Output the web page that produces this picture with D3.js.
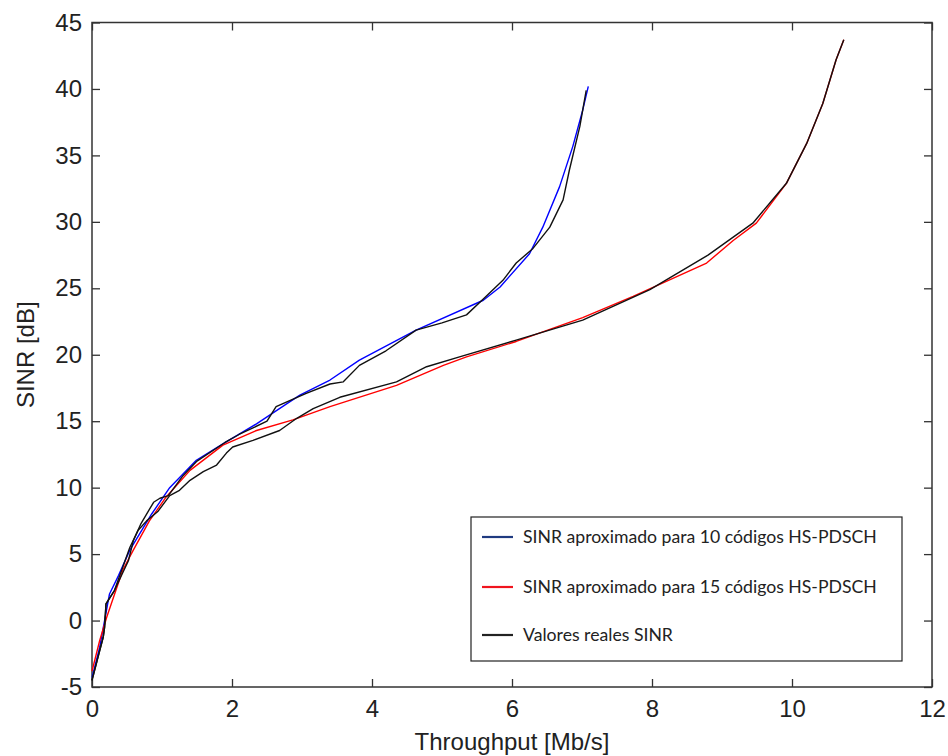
<!DOCTYPE html>
<html>
<head>
<meta charset="utf-8">
<script src="https://cdn.jsdelivr.net/npm/d3@7"></script>
<style>
  body { margin: 0; background: #fff; }
</style>
</head>
<body>
<div id="chart"></div>
<script>
// SINR vs throughput, 10 and 15 HS-PDSCH codes

var xTicks = [0, 2, 4, 6, 8, 10, 12];
var yTicks = [-5, 0, 5, 10, 15, 20, 25, 30, 35, 40, 45];

// approximated SINR, 10 codes (blue)
var aprox10X = [0, 0.11, 0.25, 0.38, 0.54, 0.85, 1.11, 1.49, 1.87, 2.35, 2.78, 2.97, 3.40, 3.82, 4.63, 5.59, 5.83, 6.25, 6.44, 6.68, 6.87, 7.01, 7.09];
var aprox10Y = [-4.3, -2.0, 2.0, 3.4, 5.3, 8.0, 10.0, 12.06, 13.3, 14.8, 16.3, 16.96, 18.1, 19.6, 21.85, 24.1, 25.1, 27.6, 29.6, 32.65, 35.7, 38.4, 40.2];

// approximated SINR, 15 codes (red)
var aprox15X = [0, 0.11, 0.21, 0.44, 0.59, 0.82, 1.06, 1.40, 1.87, 2.35, 2.87, 3.40, 4.35, 5.02, 5.35, 6.06, 7.01, 7.73, 8.78, 9.16, 9.49, 9.92, 10.21, 10.44, 10.63, 10.74];
var aprox15Y = [-3.8, -1.5, 0.25, 3.8, 5.3, 7.5, 9.3, 11.3, 13.2, 14.3, 15.1, 16.1, 17.7, 19.2, 19.84, 21.0, 22.8, 24.4, 26.9, 28.6, 29.9, 32.9, 35.9, 38.9, 42.2, 43.7];

// real SINR values, 10 codes (black)
var real10X = [0, 0.11, 0.16, 0.18, 0.20, 0.32, 0.52, 0.59, 0.70, 0.88, 0.97, 1.09, 1.3, 1.5, 1.9, 2.1, 2.3, 2.5, 2.63, 2.8, 3.06, 3.4, 3.59, 3.82, 4.2, 4.63, 5.0, 5.35, 5.59, 5.87, 6.06, 6.3, 6.54, 6.73, 6.82, 6.97, 7.06];
var real10Y = [-4.5, -2.26, -1.26, -0.5, 1.26, 2.26, 4.5, 6.0, 7.3, 8.9, 9.2, 9.4, 10.9, 12.0, 13.4, 14.0, 14.5, 15.0, 16.1, 16.5, 17.1, 17.8, 17.96, 19.2, 20.3, 21.85, 22.4, 23.0, 24.2, 25.6, 26.9, 28.0, 29.6, 31.65, 33.9, 37.2, 39.9];

// real SINR values, 15 codes (black)
var real15X = [0, 0.11, 0.16, 0.18, 0.20, 0.32, 0.54, 0.66, 0.78, 0.94, 1.11, 1.25, 1.40, 1.59, 1.78, 1.92, 2.01, 2.3, 2.68, 2.92, 3.16, 3.54, 4.35, 4.78, 5.25, 6.06, 7.01, 7.97, 8.8, 9.44, 9.68, 9.92, 10.21, 10.44, 10.63, 10.74];
var real15Y = [-4.5, -2.26, -1.26, -0.5, 1.26, 2.26, 5.5, 6.8, 7.5, 8.2, 9.4, 9.8, 10.55, 11.2, 11.7, 12.6, 13.06, 13.56, 14.3, 15.2, 15.95, 16.8, 17.96, 19.1, 19.84, 21.1, 22.6, 24.9, 27.5, 29.9, 31.4, 32.9, 35.9, 38.9, 42.2, 43.7];

var legendLabels = [
  "SINR aproximado para 10 códigos HS-PDSCH",
  "SINR aproximado para 15 códigos HS-PDSCH",
  "Valores reales SINR"
];

var width = 948;
var height = 756;

var margin = {top: 22.5, right: 16, bottom: 69, left: 92};

var svg = d3.select("#chart").append("svg")
  .attr("width", width)
  .attr("height", height);

svg.append("rect")
  .attr("width", width)
  .attr("height", height)
  .attr("fill", "#fff");

var x = d3.scaleLinear()
  .domain([0, 12])
  .range([margin.left, width - margin.right]);

var y = d3.scaleLinear()
  .domain([-5, 45])
  .range([height - margin.bottom, margin.top]);

var axisColor = "#333";
var tickFont = "'Liberation Sans', Arial, sans-serif";
var plainNum = function (d) { return String(d); };  // matlab style "-5", not the unicode minus

function styleAxis(g) {
  g.select(".domain").remove();
  g.selectAll("line").attr("stroke", axisColor).attr("stroke-width", 1.3);
  g.selectAll("text")
    .attr("fill", "#222")
    .style("font-family", tickFont)
    .style("font-size", "24px");
}

// bottom axis
svg.append("g")
  .attr("transform", "translate(0," + y(-5) + ")")
  .call(d3.axisBottom(x).tickValues(xTicks).tickFormat(plainNum).tickSizeInner(-8).tickSizeOuter(0).tickPadding(13))
  .call(styleAxis);

// left axis
svg.append("g")
  .attr("transform", "translate(" + x(0) + ",0)")
  .call(d3.axisLeft(y).tickValues(yTicks).tickFormat(plainNum).tickSizeInner(-8).tickSizeOuter(0).tickPadding(10))
  .call(styleAxis);

// top and right ticks, no labels
svg.append("g")
  .attr("transform", "translate(0," + y(45) + ")")
  .call(d3.axisTop(x).tickValues(xTicks).tickSizeInner(-8).tickSizeOuter(0).tickFormat(""))
  .call(styleAxis);

svg.append("g")
  .attr("transform", "translate(" + x(12) + ",0)")
  .call(d3.axisRight(y).tickValues(yTicks).tickSizeInner(-8).tickSizeOuter(0).tickFormat(""))
  .call(styleAxis);

// box
svg.append("rect")
  .attr("x", x(0))
  .attr("y", y(45))
  .attr("width", x(12) - x(0))
  .attr("height", y(-5) - y(45))
  .attr("fill", "none")
  .attr("stroke", axisColor)
  .attr("stroke-width", 1.5);

// axis titles
svg.append("text")
  .attr("x", (x(0) + x(12)) / 2)
  .attr("y", 750)
  .attr("text-anchor", "middle")
  .style("font-family", tickFont)
  .style("font-size", "24px")
  .attr("fill", "#222")
  .text("Throughput [Mb/s]");

svg.append("text")
  .attr("transform", "translate(34," + ((y(-5) + y(45)) / 2) + ") rotate(-90)")
  .attr("text-anchor", "middle")
  .style("font-family", tickFont)
  .style("font-size", "24px")
  .attr("fill", "#222")
  .text("SINR [dB]");

// curves
function zipXY(xs, ys) {
  return xs.map(function (d, i) { return [d, ys[i]]; });
}

var line = d3.line()
  .x(function (d) { return x(d[0]); })
  .y(function (d) { return y(d[1]); });

var series = [
  {data: zipXY(aprox10X, aprox10Y), color: "#0000ff"},
  {data: zipXY(aprox15X, aprox15Y), color: "#ff0000"},
  {data: zipXY(real10X, real10Y), color: "#111"},
  {data: zipXY(real15X, real15Y), color: "#111"}
];

svg.selectAll(".curve")
  .data(series)
  .enter().append("path")
  .attr("class", "curve")
  .attr("d", function (d) { return line(d.data); })
  .attr("fill", "none")
  .attr("stroke", function (d) { return d.color; })
  .attr("stroke-width", 1.4)
  .attr("stroke-linejoin", "round");

// legend
var legend = svg.append("g");

legend.append("rect")
  .attr("x", 471)
  .attr("y", 517)
  .attr("width", 431)
  .attr("height", 144)
  .attr("fill", "#fff")
  .attr("stroke", "#222")
  .attr("stroke-width", 1.2);

var legendColors = ["#1f3a80", "#f0141e", "#222"];
var legendRows = [537, 587, 635];

legendLabels.forEach(function (label, i) {
  legend.append("line")
    .attr("x1", 482).attr("x2", 513)
    .attr("y1", legendRows[i]).attr("y2", legendRows[i])
    .attr("stroke", legendColors[i])
    .attr("stroke-width", 2.2);
  legend.append("text")
    .attr("class", "legendText")
    .attr("x", 523)
    .attr("y", legendRows[i])
    .attr("dy", "0.36em")
    .style("font-family", "Lato, 'Open Sans', sans-serif")
    .style("font-size", "17px")
    .attr("fill", "#222")
    .text(label);
});

// fit legend text to the width seen in the original (~354px for the first label)
var firstLen = legend.select(".legendText").node().getComputedTextLength();
var fitSize = 17 * 354 / firstLen;
legend.selectAll(".legendText").style("font-size", fitSize + "px");
</script>
</body>
</html>
